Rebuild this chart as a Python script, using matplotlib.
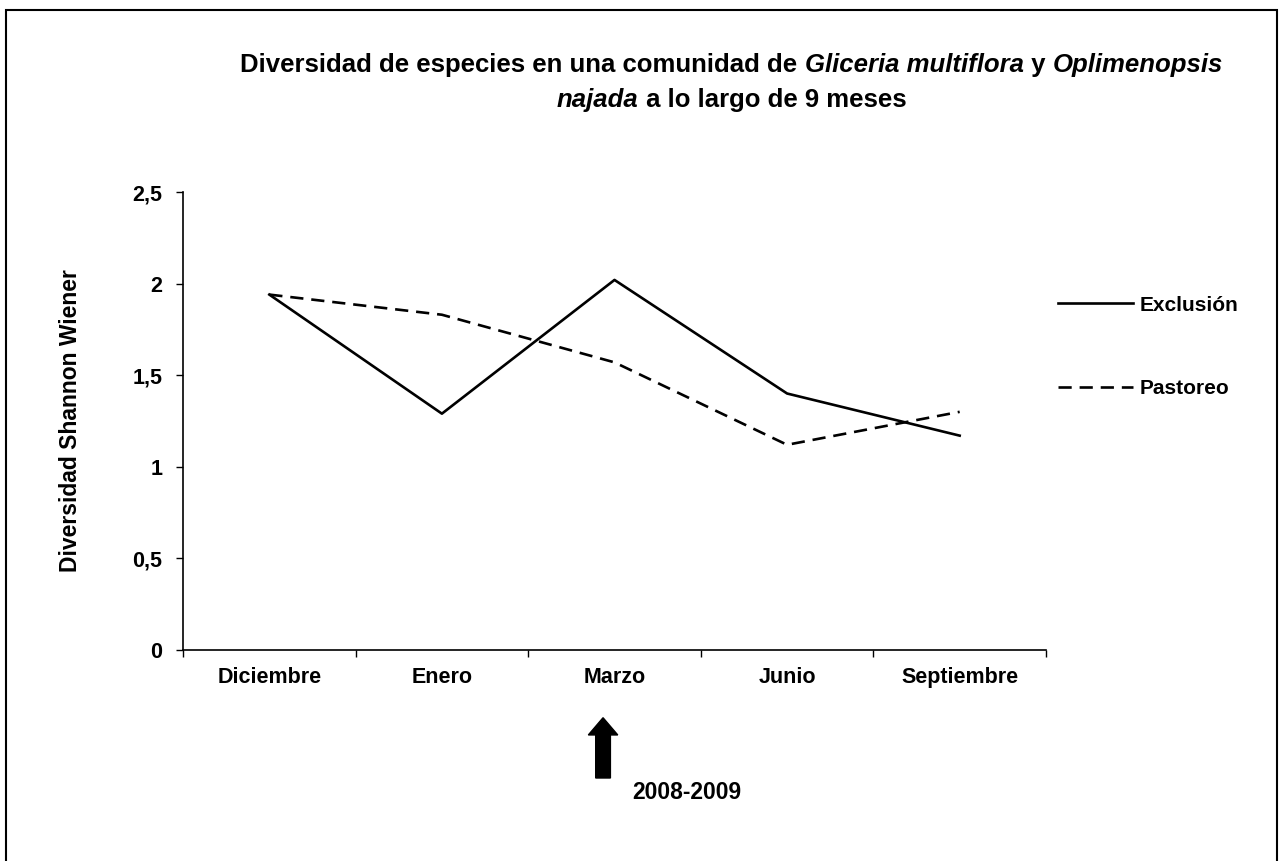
import matplotlib
matplotlib.use("Agg")
import matplotlib.pyplot as plt
import numpy as np
from matplotlib.patches import FancyArrow, Rectangle

plt.rcParams['font.family'] = ['Liberation Sans', 'DejaVu Sans']
plt.rcParams['font.weight'] = 'bold'

months = ['Diciembre', 'Enero', 'Marzo', 'Junio', 'Septiembre']
exclusion = [1.94, 1.29, 2.02, 1.40, 1.17]
pastoreo = [1.94, 1.83, 1.57, 1.12, 1.30]
yticks = [0, 0.5, 1, 1.5, 2, 2.5]
ytick_labels = ['0', '0,5', '1', '1,5', '2', '2,5']

title_lines = [
    [('Diversidad de especies en una comunidad de ', 'normal'),
     ('Gliceria multiflora', 'italic'),
     (' y ', 'normal'),
     ('Oplimenopsis', 'italic')],
    [('najada', 'italic'),
     (' a lo largo de 9 meses', 'normal')],
]

fig = plt.figure(figsize=(12.79, 8.61), dpi=100)
ax = fig.add_axes([0.1431, 0.2451, 0.6747, 0.5319])

x = np.arange(len(months))
ax.plot(x, exclusion, color='black', lw=1.9, label='Exclusión')
ax.plot(x, pastoreo, color='black', lw=1.9, dashes=(5, 3), label='Pastoreo')

ax.set_xlim(-0.5, len(months) - 0.5)
ax.set_ylim(0, 2.5)
ax.set_xticks(x)
ax.set_xticklabels(months, fontsize=15.5, fontweight='bold')
ax.set_xticks(np.arange(-0.5, len(months), 1), minor=True)
ax.tick_params(axis='x', which='major', length=0, pad=12)
ax.tick_params(axis='x', which='minor', length=5, direction='out', width=1)
ax.set_yticks(yticks)
ax.set_yticklabels(ytick_labels, fontsize=15.5, fontweight='bold')
ax.tick_params(axis='y', length=5, width=1, direction='out', pad=10)

for side in ['top', 'right']:
    ax.spines[side].set_visible(False)
for side in ['left', 'bottom']:
    ax.spines[side].set_linewidth(1.2)

ax.set_ylabel('Diversidad Shannon Wiener', fontsize=16.5, fontweight='bold', labelpad=36)

fig.legend(loc='center left', bbox_to_anchor=(0.8125, 0.597), frameon=False,
           handlelength=3.6, handletextpad=0.33, labelspacing=3.1,
           prop={'size': 15, 'weight': 'bold'})

# title with italic species names, each line centred
fig.canvas.draw()
renderer = fig.canvas.get_renderer()
title_y = [0.924, 0.884]
for line, ty in zip(title_lines, title_y):
    pieces = []
    for txt, style in line:
        t = fig.text(0, ty, txt, fontsize=18.5, fontweight='bold', style=style,
                     ha='left', va='center')
        pieces.append(t)
    widths = [p.get_window_extent(renderer).width for p in pieces]
    total = sum(widths)
    start = 0.572 * fig.bbox.width - total / 2
    for p, w in zip(pieces, widths):
        p.set_x(start / fig.bbox.width)
        start += w

# arrow and period label under Marzo
fig.patches.append(FancyArrow(0.4715, 0.0964, 0, 0.070, width=0.0115,
                              head_width=0.023, head_length=0.020,
                              length_includes_head=True, color='black',
                              transform=fig.transFigure, figure=fig))
fig.text(0.537, 0.080, '2008-2009', fontsize=16.5, fontweight='bold',
         ha='center', va='center')

fig.patches.append(Rectangle((0.0047, -0.01), 0.9937, 0.998, fill=False,
                             edgecolor='black', lw=1.5,
                             transform=fig.transFigure, figure=fig))

fig.savefig('out.png', dpi=100)
